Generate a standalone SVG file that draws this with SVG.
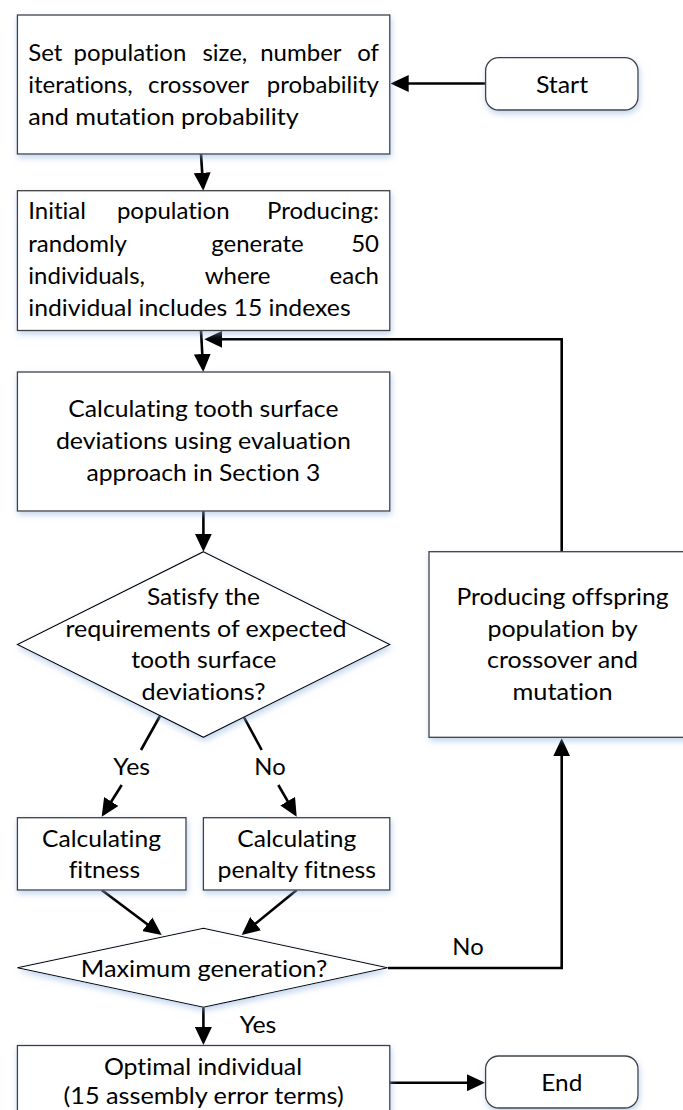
<svg xmlns="http://www.w3.org/2000/svg" width="683" height="1110" viewBox="0 0 683 1110">
<style>
.t{font-family:Lato,"Liberation Sans",sans-serif;font-size:24px;fill:#000;font-variant-ligatures:none}
.c{text-anchor:middle}
.box{fill:#fff;stroke:#404040;stroke-width:1.3}
.dia{fill:#fff;stroke:#000;stroke-width:1.1}
.cn{fill:none;stroke:#000;stroke-width:2.6}
</style>
<defs>
<filter id="sh" x="-10%" y="-10%" width="130%" height="140%">
<feDropShadow dx="1" dy="3" stdDeviation="3" flood-color="#8fb0dd" flood-opacity="0.55"/>
</filter>
<marker id="ah" markerUnits="userSpaceOnUse" markerWidth="18" markerHeight="17" refX="15" refY="8.5" orient="auto" viewBox="0 0 18 17">
<path d="M0,0 L18,8.5 L0,17 z" fill="#000"/>
</marker>
</defs>

<g id="connectors">
<path class="cn" d="M485.6,83.5 H393.7" marker-end="url(#ah)"/>
<path class="cn" d="M201,154 L203.1,187.7" marker-end="url(#ah)"/>
<path class="cn" d="M201,330.5 L203.1,369" marker-end="url(#ah)"/>
<path class="cn" d="M561.7,551.7 V339.3 H207.3" marker-end="url(#ah)"/>
<path class="cn" d="M203.4,511 V548.7" marker-end="url(#ah)"/>
<path class="cn" d="M160,716 L141,750"/>
<path class="cn" d="M121.7,785 L103.3,814.2" marker-end="url(#ah)"/>
<path class="cn" d="M243.3,716 L261.7,750"/>
<path class="cn" d="M278.3,785 L295.2,814.1" marker-end="url(#ah)"/>
<path class="cn" d="M101.7,890 L159.3,933.2" marker-end="url(#ah)"/>
<path class="cn" d="M296.7,890 L244,933.1" marker-end="url(#ah)"/>
<path class="cn" d="M388,968 H561.7 V741.3" marker-end="url(#ah)"/>
<path class="cn" d="M203.4,1007.3 V1042" marker-end="url(#ah)"/>
<path class="cn" d="M390,1082.7 H482" marker-end="url(#ah)"/>
<text class="t c" x="131.7" y="775" textLength="36.7" lengthAdjust="spacingAndGlyphs">Yes</text>
<text class="t c" x="270" y="775" textLength="31.3" lengthAdjust="spacingAndGlyphs">No</text>
<text class="t c" x="468" y="954.5" textLength="31.3" lengthAdjust="spacingAndGlyphs">No</text>
<text class="t c" x="258" y="1033" textLength="36.7" lengthAdjust="spacingAndGlyphs">Yes</text>
</g>

<g id="start">
<rect x="485.6" y="57.7" width="152.4" height="52.3" rx="13" class="box" filter="url(#sh)"/>
<text class="t c" x="562" y="93.3" textLength="52.2" lengthAdjust="spacingAndGlyphs">Start</text>
</g>

<g id="setup">
<rect x="17.4" y="15" width="372.4" height="139" class="box" filter="url(#sh)"/>
<text class="t" y="60.5"><tspan x="28.3">Set</tspan> <tspan x="73.6">population</tspan> <tspan x="202.4">size,</tspan> <tspan x="260.2">number</tspan> <tspan x="379" text-anchor="end">of</tspan></text>
<text class="t" y="92.5"><tspan x="28.3">iterations,</tspan> <tspan x="148.1">crossover</tspan> <tspan x="379" text-anchor="end">probability</tspan></text>
<text class="t" x="28.3" y="124.5" textLength="270.4" lengthAdjust="spacingAndGlyphs">and mutation probability</text>
</g>

<g id="init">
<rect x="17.4" y="190.7" width="372.4" height="139.8" class="box" filter="url(#sh)"/>
<text class="t" y="219"><tspan x="28.3">Initial</tspan> <tspan x="116.9">population</tspan> <tspan x="379" text-anchor="end">Producing:</tspan></text>
<text class="t" y="251.5"><tspan x="28.3">randomly</tspan> <tspan x="211.2">generate</tspan> <tspan x="379" text-anchor="end">50</tspan></text>
<text class="t" y="284"><tspan x="28.3">individuals,</tspan> <tspan x="204.7">where</tspan> <tspan x="379" text-anchor="end">each</tspan></text>
<text class="t" x="28.3" y="316.3" textLength="322.3" lengthAdjust="spacingAndGlyphs">individual includes 15 indexes</text>
</g>

<g id="evaluate">
<rect x="17.4" y="372" width="372.4" height="139" class="box" filter="url(#sh)"/>
<text class="t c" x="203.4" y="417" textLength="270.1" lengthAdjust="spacingAndGlyphs">Calculating tooth surface</text>
<text class="t c" x="203.4" y="449" textLength="295" lengthAdjust="spacingAndGlyphs">deviations using evaluation</text>
<text class="t c" x="203.4" y="481" textLength="233.8" lengthAdjust="spacingAndGlyphs">approach in Section 3</text>
</g>

<g id="check">
<polygon points="203.4,551.7 389.8,644.5 203.4,737.3 17.4,644.5" class="dia" filter="url(#sh)"/>
<text class="t c" x="203.4" y="605" textLength="112.9" lengthAdjust="spacingAndGlyphs">Satisfy the</text>
<text class="t c" x="206" y="636.7" textLength="281.1" lengthAdjust="spacingAndGlyphs">requirements of expected</text>
<text class="t c" x="203.8" y="668.3" textLength="145.2" lengthAdjust="spacingAndGlyphs">tooth surface</text>
<text class="t c" x="203.6" y="700" textLength="124.1" lengthAdjust="spacingAndGlyphs">deviations?</text>
</g>

<g id="offspring">
<rect x="429" y="551.7" width="270" height="185.6" class="box" filter="url(#sh)"/>
<text class="t c" x="562.5" y="605" textLength="211.9" lengthAdjust="spacingAndGlyphs">Producing offspring</text>
<text class="t c" x="562.5" y="636.7" textLength="150.2" lengthAdjust="spacingAndGlyphs">population by</text>
<text class="t c" x="562.5" y="668.3" textLength="151" lengthAdjust="spacingAndGlyphs">crossover and</text>
<text class="t c" x="562.5" y="700" textLength="100.1" lengthAdjust="spacingAndGlyphs">mutation</text>
</g>

<g id="fitness">
<rect x="17.4" y="817.7" width="168.6" height="72.3" class="box" filter="url(#sh)"/>
<text class="t c" x="101.5" y="846.7" textLength="118.9" lengthAdjust="spacingAndGlyphs">Calculating</text>
<text class="t c" x="104.4" y="878.3" textLength="71.3" lengthAdjust="spacingAndGlyphs">fitness</text>
</g>

<g id="penalty">
<rect x="203.4" y="817.7" width="186.4" height="72.3" class="box" filter="url(#sh)"/>
<text class="t c" x="296.8" y="846.7" textLength="118.9" lengthAdjust="spacingAndGlyphs">Calculating</text>
<text class="t c" x="296.8" y="878.3" textLength="158.5" lengthAdjust="spacingAndGlyphs">penalty fitness</text>
</g>

<g id="maxgen">
<polygon points="203.4,928.3 387.6,967.8 203.4,1007.3 17.4,967.8" class="dia" filter="url(#sh)"/>
<text class="t c" x="204" y="976.7" textLength="246.5" lengthAdjust="spacingAndGlyphs">Maximum generation?</text>
</g>

<g id="optimal">
<rect x="17.4" y="1045.5" width="372.4" height="90" class="box" filter="url(#sh)"/>
<text class="t c" x="203" y="1074.5" textLength="198.2" lengthAdjust="spacingAndGlyphs">Optimal individual</text>
<text class="t c" x="203.6" y="1104" textLength="280.2" lengthAdjust="spacingAndGlyphs">(15 assembly error terms)</text>
</g>

<g id="end">
<rect x="485.6" y="1056" width="152.4" height="52" rx="13" class="box" filter="url(#sh)"/>
<text class="t c" x="561.8" y="1091" textLength="41" lengthAdjust="spacingAndGlyphs">End</text>
</g>
</svg>
